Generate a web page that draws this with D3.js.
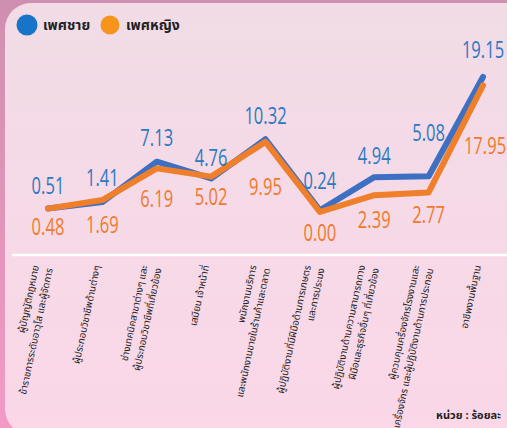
<!DOCTYPE html>
<html>
<head>
<meta charset="utf-8">
<script src="https://cdn.jsdelivr.net/npm/d3@7"></script>
<style>
  html, body { margin: 0; padding: 0; }
  body { width: 507px; height: 428px; overflow: hidden; }
</style>
</head>
<body>
<div id="chart"></div>
<script>
// Occupation groups (Thai), two lines each where wrapped
const categories = [
    ['ผู้บัญญัติกฎหมาย', 'ข้าราชการระดับอาวุโส และผู้จัดการ'],
    ['ผู้ประกอบวิชาชีพด้านต่างๆ'],
    ['ช่างเทคนิคสาขาต่างๆ และ', 'ผู้ประกอบวิชาชีพที่เกี่ยวข้อง'],
    ['เสมียน เจ้าหน้าที่'],
    ['พนักงานบริการ', 'และพนักงานขายในร้านค้าและตลาด'],
    ['ผู้ปฏิบัติงานที่มีฝีมือด้านการเกษตร', 'และการประมง'],
    ['ผู้ปฏิบัติงานด้านความสามารถทาง', 'ฝีมือและธุรกิจอื่นๆ ที่เกี่ยวข้อง'],
    ['ผู้ควบคุมเครื่องจักรโรงงานและ', 'เครื่องจักร และผู้ปฏิบัติงานด้านการประกอบ'],
    ['อาชีพงานพื้นฐาน']
];
const maleValues = [0.51, 1.41, 7.13, 4.76, 10.32, 0.24, 4.94, 5.08, 19.15];
const femaleValues = [0.48, 1.69, 6.19, 5.02, 9.95, 0.00, 2.39, 2.77, 17.95];
const seriesNames = ['เพศชาย', 'เพศหญิง'];
const unitLabel = 'หน่วย : ร้อยละ';

// label nudges (layout only)
const maleLabelDy = [-23, -24, -24, -21, -24, -30, -22, -44, -27];
const femaleLabelDy = [18, 25, 30, 20, 45, 21, 24, 22, 60];

const W = 507, H = 428;
const blue = '#3d6fc3', orange = '#f07f2c';
const blueText = '#2b79c3', orangeText = '#f0792b';

const svg = d3.select('#chart').append('svg')
    .attr('width', W)
    .attr('height', H);

// Background gradients
const defs = svg.append('defs');
const outerGrad = defs.append('linearGradient').attr('id', 'outer')
    .attr('x1', 0).attr('y1', 0).attr('x2', 0).attr('y2', 1);
outerGrad.append('stop').attr('offset', '0%').attr('stop-color', '#cf8fb0');
outerGrad.append('stop').attr('offset', '100%').attr('stop-color', '#f39ac6');
const cardGrad = defs.append('linearGradient').attr('id', 'card')
    .attr('x1', 0).attr('y1', 0).attr('x2', 0).attr('y2', 1);
cardGrad.append('stop').attr('offset', '0%').attr('stop-color', '#f1dce6');
cardGrad.append('stop').attr('offset', '100%').attr('stop-color', '#fbd7e8');

svg.append('rect').attr('width', W).attr('height', H).attr('fill', 'url(#outer)');
svg.append('rect')
    .attr('x', 5).attr('y', 3)
    .attr('width', W + 20).attr('height', H + 4)
    .attr('rx', 26)
    .attr('fill', 'url(#card)');

// Scales
const x = d3.scalePoint()
    .domain(d3.range(categories.length))
    .range([48, 483]);
const y = d3.scaleLinear()
    .domain([0, 19.15])
    .range([212, 77]);

// Baseline divider
svg.append('line')
    .attr('x1', 12).attr('x2', W)
    .attr('y1', 255).attr('y2', 255)
    .attr('stroke', '#ffffff')
    .attr('stroke-width', 2.5);

// Lines
const line = d3.line()
    .x((d, i) => x(i))
    .y(d => y(d))
    .curve(d3.curveLinear);

svg.append('path')
    .datum(maleValues)
    .attr('d', line)
    .attr('fill', 'none')
    .attr('stroke', blue)
    .attr('stroke-width', 6)
    .attr('stroke-linejoin', 'round')
    .attr('stroke-linecap', 'round');

svg.append('path')
    .datum(femaleValues)
    .attr('d', line)
    .attr('fill', 'none')
    .attr('stroke', orange)
    .attr('stroke-width', 6)
    .attr('stroke-linejoin', 'round')
    .attr('stroke-linecap', 'round');

// Value labels (condensed by horizontal scaling)
const numFont = "'Open Sans', sans-serif";
function valueLabels(values, dys, color, lastDx) {
    svg.append('g').selectAll('text')
        .data(values)
        .enter()
        .append('text')
        .attr('transform', (d, i) => {
            const px = x(i) + (i === values.length - 1 ? lastDx : 0);
            return `translate(${px},${y(d) + dys[i]}) scale(0.69,1)`;
        })
        .attr('dy', '0.35em')
        .attr('text-anchor', 'middle')
        .style('font-family', numFont)
        .style('font-size', '24px')
        .style('fill', color)
        .text(d => d.toFixed(2));
}
valueLabels(maleValues, maleLabelDy, blueText, 0);
valueLabels(femaleValues, femaleLabelDy, orangeText, 2);

// Category labels, rotated
const thaiFont = "'Noto Sans Thai', 'Noto Sans', 'DejaVu Sans', sans-serif";
categories.forEach((lines, i) => {
    const shift = (lines.length - 1) * 7;
    const t = svg.append('text')
        .attr('transform', `translate(${x(i) - 2 - shift},266) rotate(-78)`)
        .attr('text-anchor', 'end')
        .style('font-family', thaiFont)
        .style('font-size', '9.7px')
        .style('fill', '#222');
    lines.forEach((s, j) => {
        t.append('tspan')
            .attr('x', 0)
            .attr('dy', j === 0 ? 0 : '1.45em')
            .text(s);
    });
});

// Legend
const legend = svg.append('g').attr('transform', 'translate(27,25)');
[[blue, seriesNames[0], 0], [orange, seriesNames[1], 83]].forEach(([c, name, dx], i) => {
    legend.append('circle')
        .attr('cx', dx).attr('cy', 0)
        .attr('r', i === 0 ? 10.5 : 9.5)
        .attr('fill', i === 0 ? '#1874c8' : '#f7941d');
    legend.append('text')
        .attr('x', dx + 16).attr('y', 0)
        .attr('dy', '0.35em')
        .style('font-family', thaiFont)
        .style('font-size', '14px')
        .style('font-weight', 'bold')
        .style('fill', '#222')
        .text(name);
});

// Unit
svg.append('text')
    .attr('x', 501).attr('y', 415)
    .attr('dy', '0.35em')
    .attr('text-anchor', 'end')
    .style('font-family', thaiFont)
    .style('font-size', '11px')
    .style('font-weight', 'bold')
    .style('fill', '#222')
    .text(unitLabel);
</script>
</body>
</html>
